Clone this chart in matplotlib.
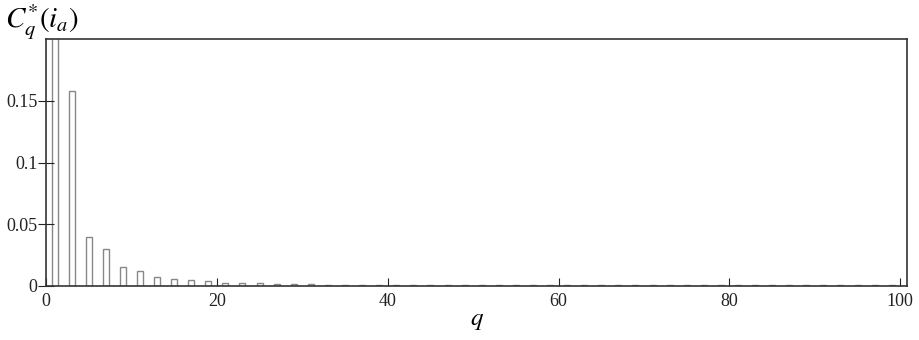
import matplotlib
matplotlib.use("Agg")
import matplotlib.pyplot as plt
import numpy as np

plt.rcParams['font.family'] = ['Liberation Serif', 'DejaVu Serif']
plt.rcParams['mathtext.fontset'] = 'stix'

# odd harmonic orders and their relative amplitudes
q = list(range(1, 100, 2))
c = [1.0, 0.158, 0.040, 0.030, 0.015, 0.012, 0.0072, 0.006, 0.0047, 0.0041,
     0.0024, 0.0025, 0.0025, 0.0019, 0.0013, 0.0013, 0.0011, 0.0011, 0.0010, 0.0010,
     0.0010, 0.0009, 0.0009, 0.0009, 0.0007, 0.0006, 0.0006, 0.0006, 0.0006, 0.0006,
     0.0006, 0.0006, 0.0006, 0.0006, 0.0006, 0.0006, 0.0006, 0.0006, 0.0006, 0.0006,
     0.0006, 0.0006, 0.0006, 0.0006, 0.0006, 0.0006, 0.0006, 0.0006, 0.0006, 0.0006]
xticks = [0, 20, 40, 60, 80, 100]
yticks = [0, 0.05, 0.1, 0.15]
ylabels = ["0", "0.05", "0.1", "0.15"]

fig = plt.figure(figsize=(9.2, 3.4), dpi=100)
ax = fig.add_axes([0.05, 0.159, 0.936, 0.726])

ax.bar(q, c, width=0.7, facecolor='white', edgecolor='#888888', linewidth=1.0)

ax.set_xlim(0, 100.8)
ax.set_ylim(0, 0.2)
ax.set_xticks(xticks)
ax.set_yticks(yticks)
ax.set_yticklabels(ylabels)
ax.tick_params(axis='x', direction='in', length=6, labelsize=13, pad=5,
               color='#222222', labelcolor='#222222')
ax.tick_params(axis='y', direction='inout', length=12, labelsize=13, pad=0,
               color='#222222', labelcolor='#222222')
for s in ax.spines.values():
    s.set_color('#333333')
    s.set_linewidth(1.2)

ax.set_xlabel('$q$', fontsize=18, labelpad=0)
fig.text(0.005, 0.875, r'$C_q^{*}(i_a)$', fontsize=21, ha='left', va='bottom')

fig.savefig("out.png", dpi=100)
